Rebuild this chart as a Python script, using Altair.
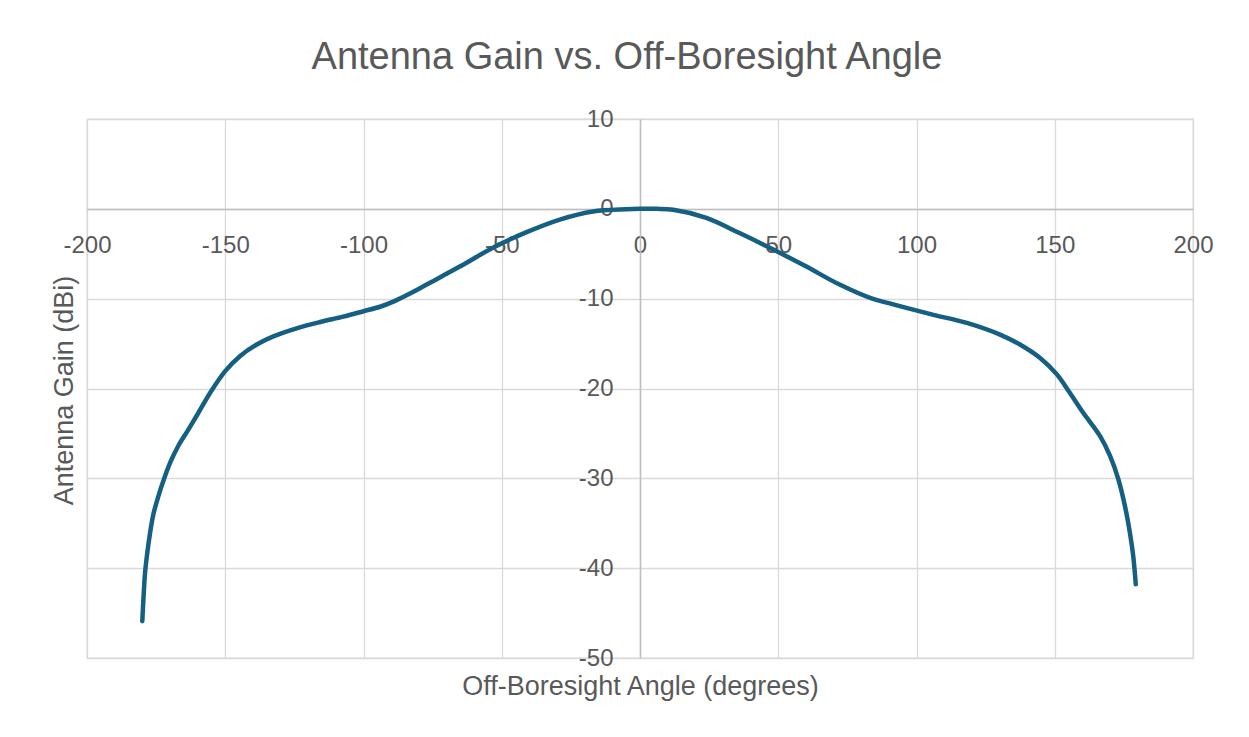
import altair as alt
import pandas as pd

angles = [-180.0, -179.6, -179.0, -178.2, -177.2, -176.0, -174.2, -172.4, -170.0, -167.0,
          -163.4, -159.7, -155.5, -150.1, -144.7, -138.6, -132.6, -124.2, -115.7, -107.3,
          -100.0, -94.0, -89.0, -83.0, -77.0, -65.0, -53.0, -41.0, -29.0, -17.0, -5.0, 0.0,
          6.0, 12.0, 24.0, 36.0, 48.0, 60.0, 72.0, 84.0, 90.0, 96.0, 106.1, 118.2, 130.2,
          137.4, 144.7, 150.7, 155.5, 160.3, 166.4, 170.0, 173.0, 175.4, 177.2, 178.4, 179.3]
gains = [-45.9, -43.5, -40.5, -38.3, -36.1, -34.0, -32.0, -30.3, -28.3, -26.4,
         -24.6, -22.7, -20.5, -18.1, -16.4, -15.1, -14.2, -13.3, -12.6, -12.0,
         -11.4, -10.9, -10.3, -9.4, -8.4, -6.4, -4.3, -2.6, -1.2, -0.3, -0.05, 0.0,
         0.0, -0.1, -1.0, -2.7, -4.5, -6.4, -8.4, -10.0, -10.5, -11.0, -11.8, -12.7, -14.0,
         -15.1, -16.6, -18.4, -20.5, -22.7, -25.3, -27.5, -30.1, -33.1, -36.1, -38.7, -41.8]
x_ticks = [-200, -150, -100, -50, 0, 50, 100, 150, 200]
y_ticks = [10, 0, -10, -20, -30, -40, -50]

df = pd.DataFrame({"angle": angles, "gain": gains})

FONT = "Liberation Sans"
TXT = "#595959"

W, H = 1106, 539

line = alt.Chart(df).mark_line(
    color="#156082", strokeWidth=4.5, interpolate="catmull-rom", strokeCap="round"
).encode(
    x=alt.X("angle:Q",
            scale=alt.Scale(domain=[-200, 200], nice=False, zero=False),
            axis=alt.Axis(values=x_ticks, title="Off-Boresight Angle (degrees)",
                          offset=-449, labelPadding=24, titleY=477,
                          labelFlush=False, labelOverlap=False,
                          labelExpr="'' + datum.value",
                          titleBaseline="middle", titleAnchor="middle")),
    y=alt.Y("gain:Q",
            scale=alt.Scale(domain=[-50, 10], nice=False),
            axis=alt.Axis(values=y_ticks, title="Antenna Gain (dBi)",
                          offset=-553, labelPadding=27,
                          labelFlush=False, labelOverlap=False,
                          labelExpr="'' + datum.value",
                          titleX=-576, titleY=271, titleAngle=270,
                          titleBaseline="middle", titleAlign="center")),
)

chart = line.properties(
    width=W, height=H,
    padding={"left": 79, "top": 111, "right": 48, "bottom": 71},
    autosize=alt.AutoSizeParams(type="none"),
    background="white",
    title=alt.TitleParams("Antenna Gain vs. Off-Boresight Angle", fontSize=38,
                          font=FONT, color=TXT, fontWeight="normal",
                          anchor="middle", frame="group", dx=-13,
                          offset=0, baseline="alphabetic"),
).configure_view(
    stroke="#d9d9d9", strokeWidth=1.3
).configure_axis(
    labelFont=FONT, titleFont=FONT, labelColor=TXT, titleColor=TXT,
    labelFontSize=24, titleFontSize=27, titleFontWeight="normal",
    gridColor="#d9d9d9", gridWidth=1.3, domainColor="#bfbfbf", domainWidth=1.5,
    ticks=False, tickSize=0
)

chart.save("out.html", embed_options={"renderer": "svg", "actions": False})
